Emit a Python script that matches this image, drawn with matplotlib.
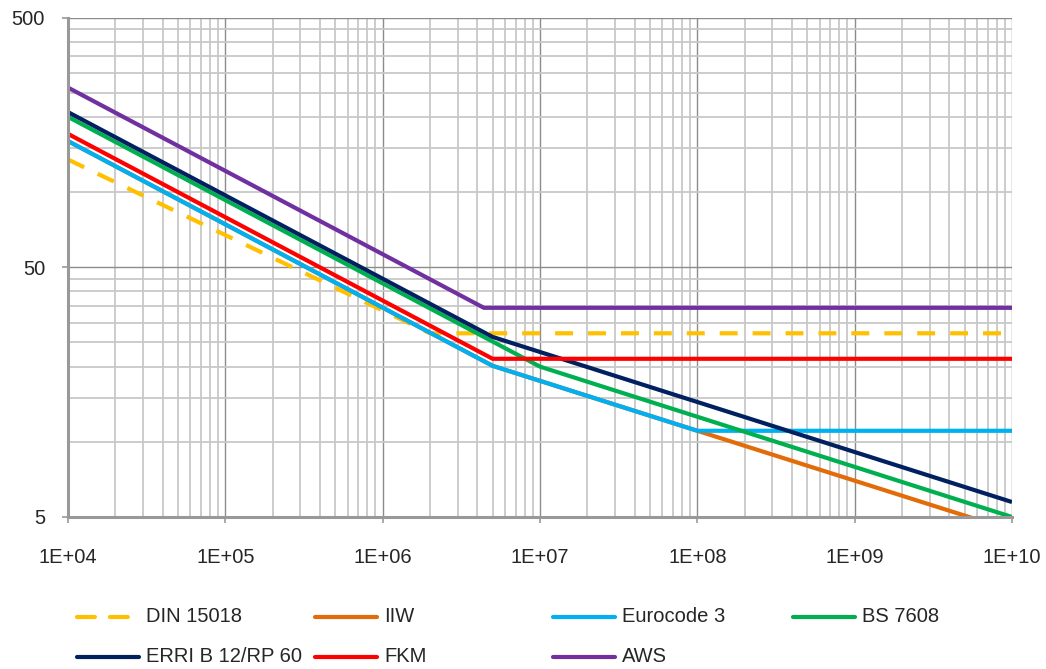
import matplotlib
matplotlib.use("Agg")
import matplotlib.pyplot as plt
from matplotlib.lines import Line2D
from matplotlib.ticker import FixedLocator, NullFormatter

# S-N curves: knee points (cycles, stress range)
din_n = [1e4, 2e6, 1e10]
din_s = [135, 27.2, 27.2]

iiw_n = [1e4, 5e6, 1e8, 1e10]
iiw_s = [160, 20.15, 11.07, 4.41]

ec3_n = [1e4, 5e6, 1e8, 1e10]
ec3_s = [160, 20.15, 11.07, 11.07]

bs_n = [1e4, 1e7, 1e10]
bs_s = [200, 20, 5]

erri_n = [1e4, 5e6, 1e10]
erri_s = [209, 26.3, 5.74]

fkm_n = [1e4, 5e6, 1e10]
fkm_s = [171, 21.5, 21.5]

aws_n = [1e4, 4.4e6, 1e10]
aws_s = [262, 34.4, 34.4]

series = [
    ("DIN 15018", din_n, din_s, "#FFC000", "dash"),
    ("IIW", iiw_n, iiw_s, "#E36C0A", "solid"),
    ("Eurocode 3", ec3_n, ec3_s, "#00B0F0", "solid"),
    ("BS 7608", bs_n, bs_s, "#00B050", "solid"),
    ("ERRI B 12/RP 60", erri_n, erri_s, "#002060", "solid"),
    ("FKM", fkm_n, fkm_s, "#FF0000", "solid"),
    ("AWS", aws_n, aws_s, "#7030A0", "solid"),
]

x_ticks = [1e4, 1e5, 1e6, 1e7, 1e8, 1e9, 1e10]
x_labels = ["1E+04", "1E+05", "1E+06", "1E+07", "1E+08", "1E+09", "1E+10"]
y_ticks = [5, 50, 500]
y_labels = ["5", "50", "500"]
y_minor = [10, 15, 20, 25, 30, 35, 40, 45, 100, 150, 200, 250, 300, 350, 400, 450]

plt.rcParams['font.family'] = ['Liberation Sans', 'DejaVu Sans']

W, H = 1046, 669
fig = plt.figure(figsize=(W / 100, H / 100), dpi=100)
ax = fig.add_axes([68 / W, 1 - 517 / H, (1012 - 68) / W, (517 - 17.5) / H])

lw = 3.0
dash = (0, (4.3, 3.6))
for name, n, s, col, style in series:
    ls = dash if style == "dash" else "-"
    ax.plot(n, s, color=col, lw=lw, linestyle=ls, solid_capstyle='butt',
            dash_capstyle='butt', label=name)

ax.set_xscale('log')
ax.set_yscale('log')
ax.set_xlim(1e4, 1e10)
ax.set_ylim(5, 500)

ax.xaxis.set_major_locator(FixedLocator(x_ticks))
ax.set_xticklabels(x_labels)
ax.xaxis.set_minor_locator(FixedLocator(
    [m * 10 ** e for e in range(4, 10) for m in range(2, 10)]))
ax.xaxis.set_minor_formatter(NullFormatter())
ax.yaxis.set_major_locator(FixedLocator(y_ticks))
ax.set_yticklabels(y_labels)
ax.yaxis.set_minor_locator(FixedLocator(y_minor))
ax.yaxis.set_minor_formatter(NullFormatter())

ax.grid(which='major', color='#8C8C8C', lw=1.0)
ax.grid(which='minor', color='#C8C8C8', lw=1.3)
ax.set_axisbelow(True)

for side in ['top', 'right']:
    ax.spines[side].set_visible(False)
for side in ['left', 'bottom']:
    ax.spines[side].set_color('#999999')
    ax.spines[side].set_linewidth(2.2)

ax.tick_params(which='major', length=4.5, width=1.2, color='#999999',
               labelsize=14.5, labelcolor='#262626')
ax.tick_params(axis='x', which='major', pad=18)
ax.tick_params(axis='y', which='major', pad=12)
ax.tick_params(which='minor', length=0)

# legend, laid out like the Excel one (2 rows below the plot)
cols = [77, 315, 553, 793]
rows = [616.7, 656.7]
slots = [(0, 0), (0, 1), (0, 2), (0, 3), (1, 0), (1, 1), (1, 2)]
for (name, n, s, col, style), (r, c) in zip(series, slots):
    x0 = cols[c]
    x1 = x0 + 62
    y = 1 - rows[r] / H
    ls = dash if style == "dash" else "-"
    fig.add_artist(Line2D([x0 / W, x1 / W], [y, y], color=col, lw=lw,
                          linestyle=ls, solid_capstyle='round',
                          dash_capstyle='round'))
    fig.text((x1 + 7) / W, y, name, fontsize=14.5, color='#262626',
             va='center', ha='left')

fig.savefig("out.png", dpi=100)
